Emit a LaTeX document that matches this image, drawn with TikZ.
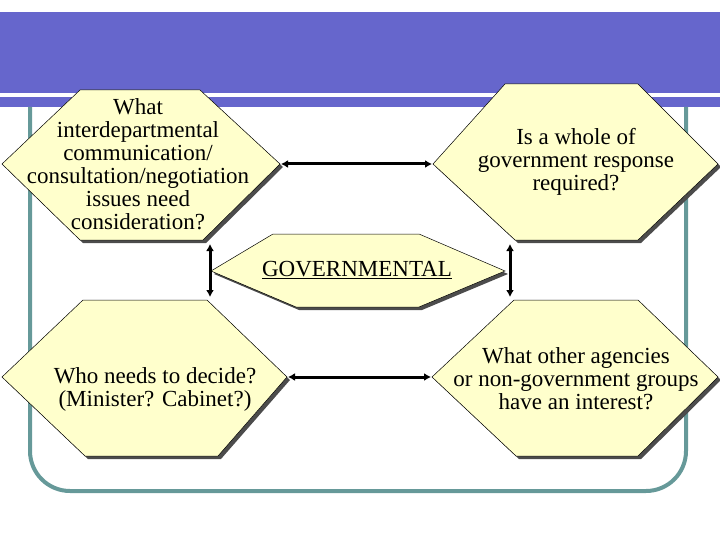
\documentclass[tikz,border=0pt]{standalone}
\usepackage{fontspec}
\setmainfont{Liberation Serif}
\usetikzlibrary{arrows.meta}
\definecolor{banner}{HTML}{6666CC}
\definecolor{frame}{HTML}{669999}
\definecolor{hexfill}{HTML}{FFFFCC}
\tikzset{
  hexshape/.style={fill=hexfill, draw=black, line width=0.5pt},
  hexshadow/.style={fill=black!70, draw=none},
  txt/.style={align=center, font=\fontsize{23}{23}\selectfont, inner sep=0pt},
  conn/.style={line width=3pt, {Latex[length=7pt,width=8pt]}-{Latex[length=7pt,width=8pt]}, shorten <=1pt, shorten >=1pt}
}
\begin{document}
\begin{tikzpicture}[x=1pt,y=-1pt]
\useasboundingbox (0,0) rectangle (720,540);
\fill[banner] (0,12) rectangle (720,93);
\fill[banner] (0,97) rectangle (720,107);
\draw[frame, line width=4pt, rounded corners=40pt] (30,107) -- (30,491) -- (686,491) -- (686,107);
\foreach \n/\tl/\tr/\yt/\lx/\rx/\ym/\bl/\br/\yb in {
  A/80/200/90/2/280/164/80/203/240,
  B/505/638/84/433/718/164/515/638/240,
  C/273/419/234/211/505/271/296/419/307,
  D/83/207/300/2/287/377/85/218/456,
  E/514/638/300/432/718/377/516/638/456}{
  \fill[hexshadow] (\tl+3,\yt+3) -- (\tr+3,\yt+3) -- (\rx+3,\ym+3) -- (\br+3,\yb+3) -- (\bl+3,\yb+3) -- (\lx+3,\ym+3) -- cycle;
  \filldraw[hexshape] (\tl,\yt) -- (\tr,\yt) -- (\rx,\ym) -- (\br,\yb) -- (\bl,\yb) -- (\lx,\ym) -- cycle;
  \coordinate (\n L) at (\lx,\ym);
  \coordinate (\n R) at (\rx,\ym);
}
\node[txt] (a) at (138,164) {What\\interdepartmental\\communication/\\consultation/negotiation\\issues need\\consideration?};
\node[txt] (b) at (576,162) {Is a whole of\\government response\\required?};
\node[txt] (c) at (357,270) {\underline{GOVERNMENTAL}};
\node[txt] (d) at (155,389) {Who needs to decide?\\(Minister? Cabinet?)};
\node[txt] (e) at (576,379) {What other agencies\\or non-government groups\\have an interest?};
\coordinate (lt) at (210,243); \coordinate (lb) at (210,298);
\coordinate (rt) at (510,243); \coordinate (rb) at (510,298);
\draw[conn] (AR) -- (BL);
\draw[conn] (DR) -- (EL);
\draw[conn] (lt) -- (lb);
\draw[conn] (rt) -- (rb);
\end{tikzpicture}
\end{document}
